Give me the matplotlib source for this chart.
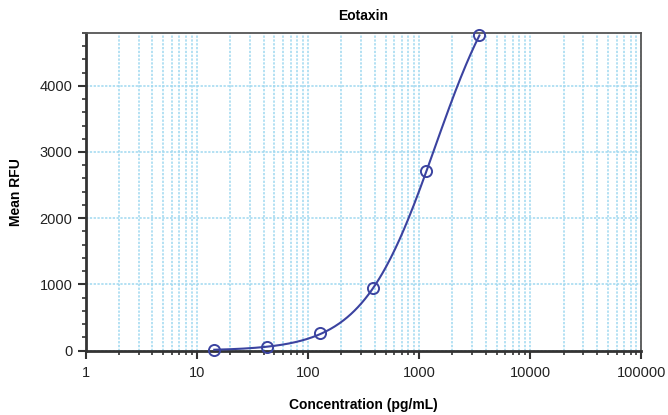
import numpy as np
import matplotlib
matplotlib.use('Agg')
import matplotlib.pyplot as plt
from matplotlib.ticker import LogLocator, MultipleLocator, FixedFormatter, FixedLocator

# standards (3-fold dilutions) and measured signal
conc = [14.4, 43.2, 130, 389, 1167, 3500]
rfu = [15, 50, 268, 944, 2713, 4760]

x_ticks = [1, 10, 100, 1000, 10000, 100000]
x_tick_labels = ['1', '10', '100', '1000', '10000', '100000']
y_ticks = [0, 1000, 2000, 3000, 4000]

title = 'Eotaxin'
x_label = 'Concentration (pg/mL)'
y_label = 'Mean RFU'

plt.rcParams['font.family'] = ['Liberation Sans', 'DejaVu Sans']

line_col = '#3b43a0'
grid_col = '#9fd8f0'


# 4-parameter logistic fit to the standards (simple Levenberg-Marquardt)
def four_pl(p, t):
    a, d, logc, b = p
    return d + (a - d) / (1 + 10 ** (b * (t - logc)))


t = np.log10(conc)
y = np.array(rfu, dtype=float)
p = np.array([0.0, 6000.0, 3.3, 1.2])
lam = 1e-2
for _ in range(500):
    r = y - four_pl(p, t)
    J = np.zeros((len(t), 4))
    for k in range(4):
        dp = np.zeros(4)
        dp[k] = 1e-6 * max(1.0, abs(p[k]))
        J[:, k] = (four_pl(p + dp, t) - four_pl(p - dp, t)) / (2 * dp[k])
    A = J.T @ J
    step = np.linalg.solve(A + lam * np.diag(np.diag(A)), J.T @ r)
    p_new = p + step
    if np.sum((y - four_pl(p_new, t)) ** 2) < np.sum(r ** 2):
        p = p_new
        lam *= 0.5
    else:
        lam *= 4

fit_t = np.linspace(t.min(), t.max(), 300)
fit_x = 10 ** fit_t
fit_y = four_pl(p, fit_t)

fig = plt.figure(figsize=(6.68, 4.15), dpi=100)
ax = fig.add_axes([0.128, 0.155, 0.832, 0.766])

ax.set_xscale('log')
ax.set_xlim(1, 100000)
ax.set_ylim(0, 4800)

# grid
ax.xaxis.set_major_locator(FixedLocator(x_ticks))
ax.xaxis.set_major_formatter(FixedFormatter(x_tick_labels))
ax.xaxis.set_minor_locator(LogLocator(base=10, subs=np.arange(2, 10), numticks=20))
ax.yaxis.set_major_locator(FixedLocator(y_ticks))
ax.yaxis.set_minor_locator(MultipleLocator(200))

ax.grid(True, which='both', axis='x', color=grid_col, linestyle=(0, (1.5, 1)), linewidth=1.1)
ax.grid(True, which='major', axis='y', color=grid_col, linestyle=(0, (1.5, 1)), linewidth=1.1)
ax.set_axisbelow(True)

ax.plot(fit_x, fit_y, color=line_col, linewidth=1.5, zorder=3)
ax.plot(conc, rfu, linestyle='none', marker='o', markersize=8, markerfacecolor='none',
        markeredgecolor=line_col, markeredgewidth=1.4, zorder=4, clip_on=False)

for side in ['left', 'bottom']:
    ax.spines[side].set_linewidth(2)
    ax.spines[side].set_color('#333333')
for side in ['top', 'right']:
    ax.spines[side].set_linewidth(1.3)
    ax.spines[side].set_color('#555555')

ax.tick_params(axis='both', which='major', direction='out', length=6, width=1.5,
               colors='#333333', labelsize=10.5, labelcolor='#222222')
ax.tick_params(axis='both', which='minor', direction='out', length=3, width=1.2, colors='#333333')
ax.tick_params(axis='x', which='major', pad=5)

ax.set_title(title, fontsize=10, fontweight='bold', pad=9)
ax.set_xlabel(x_label, fontsize=10, fontweight='bold', labelpad=13)
ax.set_ylabel(y_label, fontsize=10, fontweight='bold', labelpad=12)

fig.savefig('out.png', dpi=100)
